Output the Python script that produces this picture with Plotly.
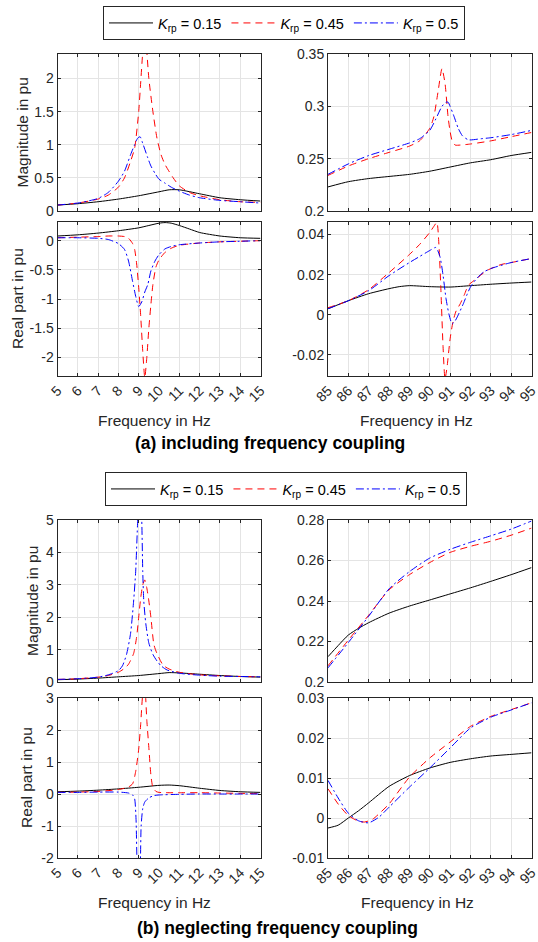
import plotly.graph_objects as go

W, H = 538, 942

# ---------------- (a) including frequency coupling ----------------
# Top-left magnitude (5-15 Hz)
a_mag_lo_x_k015 = [5, 6, 7, 8, 9, 10, 10.5, 11, 12, 13, 14, 15]
a_mag_lo_y_k015 = [0.09, 0.11, 0.14, 0.18, 0.23, 0.29, 0.32, 0.32, 0.26, 0.20, 0.17, 0.15]
a_mag_lo_x_k045 = [5, 6, 7, 7.5, 8, 8.3, 8.6, 8.8, 9.0, 9.1, 9.2, 9.3, 9.4, 9.5, 9.7, 9.9, 10.1, 10.3, 10.7, 11, 11.5, 12, 13, 14, 15]
a_mag_lo_y_k045 = [0.09, 0.12, 0.18, 0.24, 0.36, 0.5, 0.75, 0.95, 1.5, 1.95, 2.4, 2.7, 2.4, 2.0, 1.5, 1.1, 0.85, 0.7, 0.5, 0.38, 0.28, 0.23, 0.17, 0.14, 0.13]
a_mag_lo_x_k05 = [5, 6, 7, 7.5, 8, 8.3, 8.6, 8.8, 8.95, 9.07, 9.2, 9.45, 9.6, 9.8, 10, 10.3, 10.6, 11, 11.5, 12, 13, 14, 15]
a_mag_lo_y_k05 = [0.09, 0.12, 0.19, 0.28, 0.45, 0.6, 0.85, 1.0, 1.1, 1.12, 1.02, 0.8, 0.68, 0.57, 0.48, 0.42, 0.36, 0.30, 0.24, 0.2, 0.16, 0.14, 0.12]

# Top-left real part
a_re_lo_x_k015 = [5, 6, 7, 8, 9, 9.5, 10, 10.3, 10.6, 11, 11.5, 12, 13, 14, 15]
a_re_lo_y_k015 = [0.08, 0.10, 0.13, 0.17, 0.22, 0.26, 0.30, 0.31, 0.30, 0.26, 0.2, 0.14, 0.08, 0.05, 0.04]
a_re_lo_x_k045 = [5, 6, 7, 7.5, 8, 8.3, 8.5, 8.7, 8.8, 8.9, 9.0, 9.1, 9.2, 9.3, 9.4, 9.5, 9.6, 9.7, 9.85, 10, 10.3, 10.6, 11, 12, 13, 14, 15]
a_re_lo_y_k045 = [0.05, 0.06, 0.07, 0.08, 0.08, 0.07, 0.04, -0.05, -0.15, -0.4, -0.8, -1.3, -1.9, -2.35, -2.0, -1.5, -1.1, -0.75, -0.45, -0.33, -0.2, -0.13, -0.08, -0.04, -0.02, -0.01, 0.0]
a_re_lo_x_k05 = [5, 6, 7, 7.5, 8, 8.3, 8.5, 8.7, 8.85, 9.0, 9.15, 9.3, 9.45, 9.6, 9.8, 10, 10.3, 10.6, 11, 12, 13, 14, 15]
a_re_lo_y_k05 = [0.05, 0.05, 0.04, 0.02, -0.05, -0.15, -0.35, -0.7, -0.95, -1.13, -1.05, -0.88, -0.75, -0.52, -0.35, -0.24, -0.14, -0.1, -0.07, -0.04, -0.02, -0.01, 0.0]

# Top-right magnitude (85-95 Hz)
a_mag_hi_x_k015 = [85, 86, 87, 88, 89, 90, 91, 92, 93, 94, 95]
a_mag_hi_y_k015 = [0.223, 0.228, 0.231, 0.233, 0.235, 0.238, 0.242, 0.246, 0.249, 0.253, 0.256]
a_mag_hi_x_k045 = [85, 86, 87, 88, 89, 89.5, 90, 90.2, 90.4, 90.6, 90.75, 90.9, 91.0, 91.1, 91.25, 91.5, 92, 93, 94, 95]
a_mag_hi_y_k045 = [0.234, 0.243, 0.250, 0.256, 0.262, 0.267, 0.279, 0.29, 0.313, 0.336, 0.322, 0.29, 0.276, 0.267, 0.263, 0.263, 0.264, 0.267, 0.271, 0.275]
a_mag_hi_x_k05 = [85, 86, 87, 88, 89, 89.5, 90, 90.3, 90.6, 90.8, 90.9, 91.0, 91.2, 91.4, 91.6, 91.9, 92.5, 93, 94, 95]
a_mag_hi_y_k05 = [0.235, 0.245, 0.253, 0.259, 0.265, 0.269, 0.277, 0.288, 0.300, 0.304, 0.304, 0.300, 0.29, 0.279, 0.272, 0.268, 0.269, 0.270, 0.273, 0.277]

# Top-right real part
a_re_hi_x_k015 = [85, 86, 87, 88, 88.5, 89, 90, 91, 92, 93, 94, 95]
a_re_hi_y_k015 = [0.003, 0.007, 0.0105, 0.013, 0.014, 0.0145, 0.014, 0.0138, 0.0145, 0.0152, 0.0158, 0.0163]
a_re_hi_x_k045 = [85, 86, 87, 88, 89, 89.5, 90, 90.2, 90.35, 90.45, 90.55, 90.65, 90.75, 90.85, 91.0, 91.15, 91.3, 91.5, 91.7, 91.9, 92.3, 92.8, 93.5, 94, 95]
a_re_hi_y_k045 = [0.0035, 0.007, 0.0125, 0.021, 0.030, 0.035, 0.041, 0.044, 0.046, 0.035, 0.012, -0.015, -0.032, -0.026, -0.012, -0.003, 0.002, 0.0055, 0.010, 0.0147, 0.018, 0.022, 0.025, 0.026, 0.028]
a_re_hi_x_k05 = [85, 86, 87, 88, 89, 89.5, 90, 90.3, 90.5, 90.65, 90.8, 90.95, 91.1, 91.25, 91.45, 91.65, 91.85, 92, 92.3, 92.65, 93, 94, 95]
a_re_hi_y_k05 = [0.003, 0.007, 0.012, 0.0195, 0.026, 0.029, 0.032, 0.0335, 0.029, 0.02, 0.008, 0.0, -0.0045, -0.003, 0.001, 0.0055, 0.0105, 0.0138, 0.018, 0.0213, 0.023, 0.026, 0.028]

# ---------------- (b) neglecting frequency coupling ----------------
b_mag_lo_x_k015 = [5, 6, 7, 8, 9, 10, 10.5, 11, 12, 13, 14, 15]
b_mag_lo_y_k015 = [0.07, 0.09, 0.12, 0.16, 0.2, 0.26, 0.29, 0.28, 0.24, 0.2, 0.17, 0.15]
b_mag_lo_x_k045 = [5, 6, 7, 7.5, 8, 8.3, 8.5, 8.75, 8.9, 9.0, 9.1, 9.2, 9.3, 9.4, 9.5, 9.6, 9.75, 9.9, 10.2, 10.5, 11, 12, 13, 14, 15]
b_mag_lo_y_k045 = [0.08, 0.1, 0.15, 0.2, 0.3, 0.42, 0.55, 0.88, 1.4, 2.0, 2.6, 3.0, 3.15, 2.9, 2.5, 2.0, 1.15, 0.88, 0.52, 0.4, 0.3, 0.22, 0.19, 0.17, 0.16]
b_mag_lo_x_k05 = [5, 6, 7, 7.5, 8, 8.2, 8.4, 8.6, 8.75, 8.85, 8.95, 9.05, 9.15, 9.2, 9.25, 9.35, 9.5, 9.7, 9.9, 10.1, 10.4, 11, 12, 13, 14, 15]
b_mag_lo_y_k05 = [0.08, 0.1, 0.15, 0.22, 0.35, 0.5, 0.85, 1.5, 2.5, 3.4, 5.0, 6.5, 5.0, 3.4, 2.5, 1.8, 1.2, 0.85, 0.65, 0.5, 0.37, 0.27, 0.21, 0.18, 0.17, 0.16]

b_re_lo_x_k015 = [5, 6, 7, 8, 9, 10, 10.5, 11, 12, 13, 14, 15]
b_re_lo_y_k015 = [0.07, 0.09, 0.12, 0.16, 0.21, 0.27, 0.28, 0.26, 0.18, 0.11, 0.07, 0.05]
b_re_lo_x_k045 = [5, 6, 7, 8, 8.5, 8.7, 8.85, 9.0, 9.1, 9.2, 9.3, 9.4, 9.5, 9.6, 9.7, 9.85, 10, 10.5, 11, 12, 13, 14, 15]
b_re_lo_y_k045 = [0.05, 0.06, 0.08, 0.14, 0.22, 0.32, 0.7, 1.4, 2.2, 3.1, 3.3, 2.3, 1.45, 0.6, 0.2, 0.08, 0.05, 0.04, 0.04, 0.04, 0.03, 0.02, 0.01]
b_re_lo_x_k05 = [5, 6, 7, 8, 8.5, 8.7, 8.8, 8.87, 8.92, 9.0, 9.08, 9.12, 9.2, 9.3, 9.5, 9.75, 10, 11, 12, 13, 14, 15]
b_re_lo_y_k05 = [0.05, 0.05, 0.06, 0.06, 0.03, -0.03, -0.15, -0.8, -2.2, -3.0, -2.2, -1.0, -0.45, -0.25, -0.12, -0.05, -0.03, -0.01, 0.0, 0.0, 0.0, 0.0]

b_mag_hi_x_k015 = [85, 85.5, 86, 86.5, 87, 88, 89, 90, 91, 92, 93, 94, 95]
b_mag_hi_y_k015 = [0.2125, 0.218, 0.2232, 0.2265, 0.2293, 0.234, 0.2375, 0.2405, 0.2435, 0.2465, 0.2497, 0.253, 0.2565]
b_mag_hi_x_k045 = [85, 86, 87, 88, 89, 90, 91, 92, 93, 94, 95]
b_mag_hi_y_k045 = [0.208, 0.2207, 0.233, 0.2455, 0.253, 0.259, 0.264, 0.267, 0.2695, 0.2725, 0.276]
b_mag_hi_x_k05 = [85, 86, 87, 88, 89, 90, 91, 92, 93, 94, 95]
b_mag_hi_y_k05 = [0.207, 0.2195, 0.2325, 0.246, 0.2545, 0.2612, 0.2655, 0.269, 0.2722, 0.2755, 0.2795]

b_re_hi_x_k015 = [85, 85.5, 86, 86.5, 87, 88, 89, 90, 91, 92, 93, 94, 95]
b_re_hi_y_k015 = [-0.0025, -0.0018, 0.0, 0.0018, 0.0038, 0.0079, 0.0106, 0.0125, 0.0139, 0.0148, 0.0155, 0.0159, 0.0163]
b_re_hi_x_k045 = [85, 85.5, 86, 86.5, 86.8, 87.2, 87.6, 88, 89, 90, 91, 92, 93, 94, 95]
b_re_hi_y_k045 = [0.0073, 0.0035, 0.0006, -0.0008, -0.001, -0.0003, 0.0015, 0.0035, 0.0102, 0.015, 0.019, 0.0229, 0.0254, 0.0271, 0.0288]
b_re_hi_x_k05 = [85, 85.5, 86, 86.5, 87, 87.5, 88, 89, 90, 91, 92, 93, 94, 95]
b_re_hi_y_k05 = [0.0094, 0.005, 0.0012, -0.0007, -0.0012, 0.0002, 0.0027, 0.0077, 0.0125, 0.0175, 0.0225, 0.0252, 0.027, 0.0288]

series_names = ["<i>K</i><sub>rp</sub> = 0.15", "<i>K</i><sub>rp</sub> = 0.45", "<i>K</i><sub>rp</sub> = 0.5"]
series_colors = ["#000000", "#ff0000", "#0000ff"]
series_dash = ["solid", "7px,5px", "8px,3px,2px,3px"]

FONT = "Liberation Sans, Arial, sans-serif"
INK = "#262626"
GRID = "#e4e4e4"

fig = go.Figure()

panels = [
    (1, [(a_mag_lo_x_k015, a_mag_lo_y_k015), (a_mag_lo_x_k045, a_mag_lo_y_k045), (a_mag_lo_x_k05, a_mag_lo_y_k05)], "legend"),
    (2, [(a_mag_hi_x_k015, a_mag_hi_y_k015), (a_mag_hi_x_k045, a_mag_hi_y_k045), (a_mag_hi_x_k05, a_mag_hi_y_k05)], None),
    (3, [(a_re_lo_x_k015, a_re_lo_y_k015), (a_re_lo_x_k045, a_re_lo_y_k045), (a_re_lo_x_k05, a_re_lo_y_k05)], None),
    (4, [(a_re_hi_x_k015, a_re_hi_y_k015), (a_re_hi_x_k045, a_re_hi_y_k045), (a_re_hi_x_k05, a_re_hi_y_k05)], None),
    (5, [(b_mag_lo_x_k015, b_mag_lo_y_k015), (b_mag_lo_x_k045, b_mag_lo_y_k045), (b_mag_lo_x_k05, b_mag_lo_y_k05)], "legend2"),
    (6, [(b_mag_hi_x_k015, b_mag_hi_y_k015), (b_mag_hi_x_k045, b_mag_hi_y_k045), (b_mag_hi_x_k05, b_mag_hi_y_k05)], None),
    (7, [(b_re_lo_x_k015, b_re_lo_y_k015), (b_re_lo_x_k045, b_re_lo_y_k045), (b_re_lo_x_k05, b_re_lo_y_k05)], None),
    (8, [(b_re_hi_x_k015, b_re_hi_y_k015), (b_re_hi_x_k045, b_re_hi_y_k045), (b_re_hi_x_k05, b_re_hi_y_k05)], None),
]

for idx, data, leg in panels:
    sfx = "" if idx == 1 else str(idx)
    for j, (xs, ys) in enumerate(data):
        fig.add_trace(go.Scatter(
            x=xs, y=ys, mode="lines", name=series_names[j],
            line=dict(color=series_colors[j], width=1, dash=series_dash[j], shape="spline", smoothing=0.6),
            xaxis="x" + sfx, yaxis="y" + sfx,
            showlegend=leg is not None, legend=leg if leg else "legend",
            hoverinfo="skip",
        ))

def px_x(a, b):
    return [a / W, b / W]

def px_y(top, bottom):
    return [1 - bottom / H, 1 - top / H]

LX = px_x(57.5, 260.5)
RX = px_x(328, 531.5)

boxes = {
    1: (LX, px_y(54, 211)),
    2: (RX, px_y(54, 211)),
    3: (LX, px_y(222, 376)),
    4: (RX, px_y(222, 376)),
    5: (LX, px_y(520, 682)),
    6: (RX, px_y(520, 682)),
    7: (LX, px_y(698, 858)),
    8: (RX, px_y(698, 858)),
}

yspecs = {
    1: dict(range=[0, 2.37], tickvals=[0, 0.5, 1, 1.5, 2], ticktext=["0", "0.5", "1", "1.5", "2"]),
    2: dict(range=[0.2, 0.35], tickvals=[0.2, 0.25, 0.3, 0.35], ticktext=["0.2", "0.25", "0.3", "0.35"]),
    3: dict(range=[-2.32, 0.32], tickvals=[-2, -1.5, -1, -0.5, 0], ticktext=["-2", "-1.5", "-1", "-0.5", "0"]),
    4: dict(range=[-0.0305, 0.0462], tickvals=[-0.02, 0, 0.02, 0.04], ticktext=["-0.02", "0", "0.02", "0.04"]),
    5: dict(range=[0, 5], tickvals=[0, 1, 2, 3, 4, 5], ticktext=["0", "1", "2", "3", "4", "5"]),
    6: dict(range=[0.2, 0.28], tickvals=[0.2, 0.22, 0.24, 0.26, 0.28], ticktext=["0.2", "0.22", "0.24", "0.26", "0.28"]),
    7: dict(range=[-2, 3], tickvals=[-2, -1, 0, 1, 2, 3], ticktext=["-2", "-1", "0", "1", "2", "3"]),
    8: dict(range=[-0.01, 0.03], tickvals=[-0.01, 0, 0.01, 0.02, 0.03], ticktext=["-0.01", "0", "0.01", "0.02", "0.03"]),
}

lo_ticks = list(range(5, 16))
hi_ticks = list(range(85, 96))

common = dict(
    showline=True, linecolor=INK, linewidth=1, mirror="ticks",
    ticks="inside", ticklen=3, tickcolor=INK, tickwidth=1,
    showgrid=True, gridcolor=GRID, gridwidth=1, zeroline=False,
    automargin=False, ticklabeloverflow="allow",
    tickfont=dict(family=FONT, size=14, color=INK),
)

layout_axes = {}
for idx, (xd, yd) in boxes.items():
    sfx = "" if idx == 1 else str(idx)
    is_left = idx in (1, 3, 5, 7)
    is_real = idx in (3, 4, 7, 8)
    tv = lo_ticks if is_left else hi_ticks
    layout_axes["xaxis" + sfx] = dict(
        common, domain=xd, anchor="y" + sfx,
        range=[tv[0], tv[-1]], tickvals=tv, ticktext=[str(t) for t in tv],
        showticklabels=is_real, tickangle=-45,
    )
    layout_axes["yaxis" + sfx] = dict(common, domain=yd, anchor="x" + sfx, **yspecs[idx])

fig.update_layout(**layout_axes)

ann = []
def label(text, xpx, ypx, size=15.5, angle=0, bold=False):
    ann.append(dict(
        text=("<b>%s</b>" % text) if bold else text, x=xpx / W, y=1 - ypx / H,
        xref="paper", yref="paper", showarrow=False, textangle=angle,
        xanchor="center", yanchor="middle",
        font=dict(family=FONT, size=size, color=INK if not bold else "#000000"),
    ))

label("Magnitude in pu", 22, 132.5, angle=-90)
label("Real part in pu", 17, 299, angle=-90)
label("Frequency in Hz", 154, 420)
label("Frequency in Hz", 416, 420)
label("(a) including frequency coupling", 270, 443, size=17.5, bold=True)

label("Magnitude in pu", 32, 601, angle=-90)
label("Real part in pu", 26, 778, angle=-90)
label("Frequency in Hz", 154, 902)
label("Frequency in Hz", 417, 902)
label("(b) neglecting frequency coupling", 277, 928, size=17.5, bold=True)

legend_common = dict(
    orientation="h", xanchor="center", yanchor="top",
    bgcolor="white", bordercolor=INK, borderwidth=1,
    font=dict(family=FONT, size=14.5, color="#000000"),
    itemwidth=44, tracegroupgap=0,
)

fig.update_layout(
    width=W, height=H,
    margin=dict(l=0, r=0, t=0, b=0, autoexpand=False),
    paper_bgcolor="white", plot_bgcolor="white",
    annotations=ann,
    legend=dict(legend_common, x=284 / W, y=1 - 6 / H),
    legend2=dict(legend_common, x=286 / W, y=1 - 472 / H),
    font=dict(family=FONT),
)

fig.write_html("out.html")
